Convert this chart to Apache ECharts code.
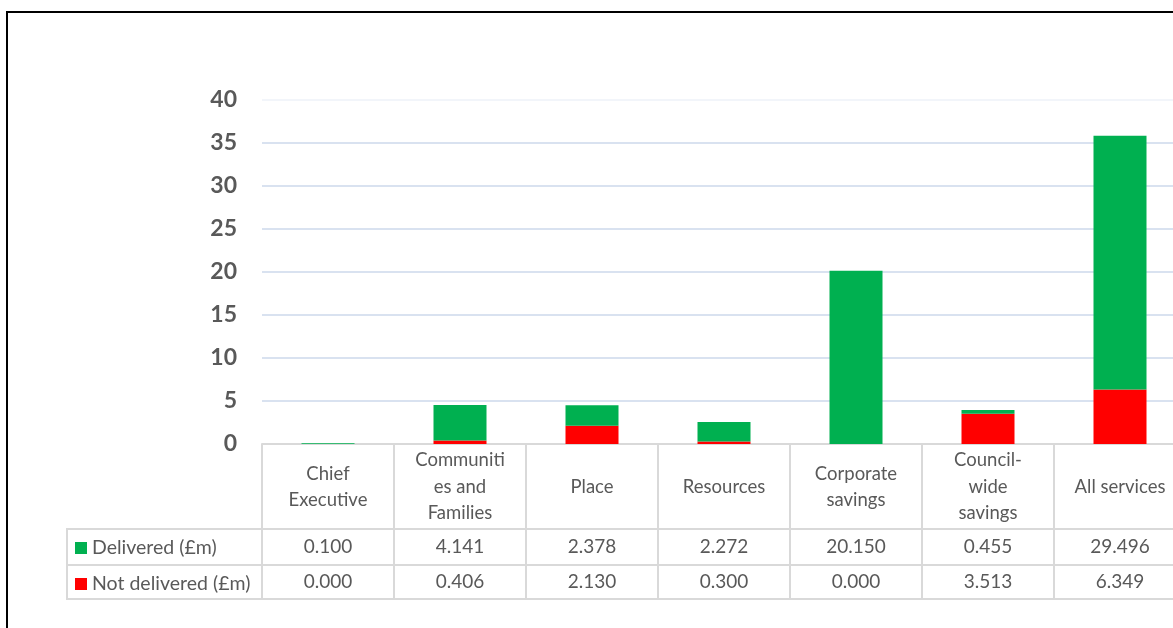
<!DOCTYPE html>
<html>
<head>
	<meta charset="utf-8">
	<title>Savings delivered</title>
	<script src="https://cdn.jsdelivr.net/npm/echarts@6/dist/echarts.min.js"></script>
	<style>
		html, body { margin: 0; padding: 0; background: #fff; }
		#main { width: 1173px; height: 628px; }
	</style>
</head>
<body>
	<div id="main"></div>
	<script type="text/javascript">
		var categories = ['Chief\nExecutive', 'Communiti\nes and\nFamilies', 'Place', 'Resources', 'Corporate\nsavings', 'Council-\nwide\nsavings', 'All services'];
		var delivered = [0.100, 4.141, 2.378, 2.272, 20.150, 0.455, 29.496];
		var notDelivered = [0.000, 0.406, 2.130, 0.300, 0.000, 3.513, 6.349];
		var yTicks = { min: 0, max: 40, interval: 5 };

		var grey = '#595959';
		var tableLine = '#d9d9d9';
		var font = 'Lato';

		var myChart = echarts.init(document.getElementById('main'));

		var option = {
			animation: false,
			backgroundColor: '#fff',
			textStyle: { fontFamily: font },
			legend: {
				data: ['Delivered (£m)', 'Not delivered (£m)'],
				orient: 'vertical',
				left: 75,
				top: 538,
				padding: 0,
				icon: 'rect',
				itemWidth: 12,
				itemHeight: 12,
				itemGap: 16,
				selectedMode: false,
				textStyle: { fontFamily: font, fontSize: 19.5, color: grey, lineHeight: 19 }
			},
			grid: [
				{ left: 262, top: 100, width: 924, bottom: 184, outerBoundsMode: 'none' },
				{ left: 262, top: 444, width: 924, height: 155, outerBoundsMode: 'none' }
			],
			xAxis: [
				{
					type: 'category',
					gridIndex: 0,
					data: categories,
					axisLine: { lineStyle: { color: tableLine, width: 2 } },
					axisTick: { show: false },
					axisLabel: {
						interval: 0, margin: 43, verticalAlign: 'middle',
						fontFamily: font, fontSize: 18.5, lineHeight: 26.5, color: grey
					}
				},
				{
					type: 'category',
					gridIndex: 0,
					position: 'bottom',
					data: categories,
					axisLine: { show: false },
					axisTick: { show: false },
					axisLabel: {
						interval: 0, margin: 103, verticalAlign: 'middle',
						fontFamily: font, fontSize: 19, color: grey,
						formatter: function (v, i) { return delivered[i].toFixed(3); }
					}
				},
				{
					type: 'category',
					gridIndex: 0,
					position: 'bottom',
					data: categories,
					axisLine: { show: false },
					axisTick: { show: false },
					axisLabel: {
						interval: 0, margin: 138, verticalAlign: 'middle',
						fontFamily: font, fontSize: 19, color: grey,
						formatter: function (v, i) { return notDelivered[i].toFixed(3); }
					}
				},
				{
					// table column separators
					type: 'category',
					gridIndex: 1,
					data: categories,
					axisLine: { show: false },
					axisTick: { show: false },
					axisLabel: { show: false },
					splitLine: { show: true, interval: 0, lineStyle: { color: tableLine, width: 2 } }
				}
			],
			yAxis: [
				{
					type: 'value',
					gridIndex: 0,
					min: yTicks.min,
					max: yTicks.max,
					interval: yTicks.interval,
					axisLine: { show: false },
					axisTick: { show: false },
					axisLabel: { margin: 25, fontFamily: font, fontSize: 23, fontWeight: 'bold', color: grey },
					splitLine: {
						lineStyle: {
							width: 2,
							color: ['#d9e2f0', '#d9e2f0', '#d9e2f0', '#d9e2f0', '#d9e2f0', '#d9e2f0', '#d9e2f0', '#d9e2f0', '#f2f5fa']
						}
					}
				},
				{ type: 'value', gridIndex: 1, show: false }
			],
			series: [
				{
					name: 'Not delivered (£m)',
					type: 'bar',
					stack: 'total',
					barWidth: 53,
					itemStyle: { color: '#ff0000' },
					data: notDelivered
				},
				{
					name: 'Delivered (£m)',
					type: 'bar',
					stack: 'total',
					barWidth: 53,
					itemStyle: { color: '#00b050' },
					data: delivered
				}
			],
			graphic: [
				// outer frame
				{ type: 'rect', shape: { x: 7, y: 12, width: 1300, height: 800 }, style: { fill: 'none', stroke: '#000', lineWidth: 2 } },
				// table rows
				{ type: 'line', shape: { x1: 66, y1: 529, x2: 1186, y2: 529 }, style: { stroke: tableLine, lineWidth: 2 } },
				{ type: 'line', shape: { x1: 66, y1: 565, x2: 1186, y2: 565 }, style: { stroke: tableLine, lineWidth: 2 } },
				{ type: 'line', shape: { x1: 66, y1: 599, x2: 1186, y2: 599 }, style: { stroke: tableLine, lineWidth: 2 } },
				{ type: 'line', shape: { x1: 67, y1: 528, x2: 67, y2: 600 }, style: { stroke: tableLine, lineWidth: 2 } },
				{ type: 'line', shape: { x1: 262, y1: 444, x2: 262, y2: 600 }, style: { stroke: tableLine, lineWidth: 2 } }
			]
		};

		myChart.setOption(option);
	</script>
</body>
</html>
